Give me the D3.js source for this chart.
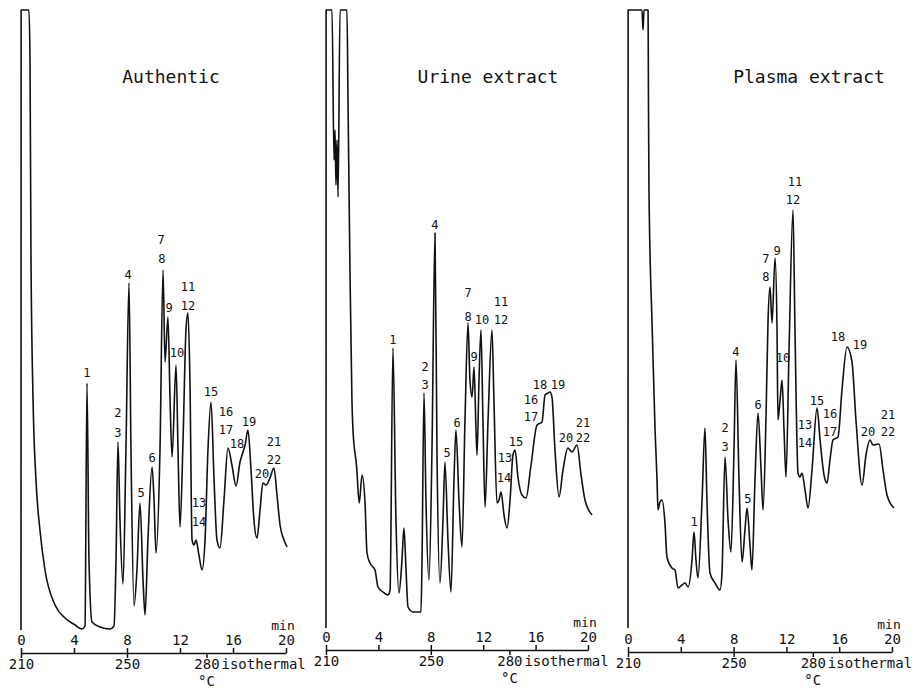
<!DOCTYPE html>
<html lang="en">
<head>
  <meta charset="UTF-8">
  <title>Gas chromatograms</title>
  <style>
    body { margin: 0; background: #fff; }
    svg text { font-family: "DejaVu Sans Mono", "Liberation Mono", monospace; fill: #111; }
  </style>
</head>
<body>
<svg id="chart" width="921" height="690"></svg>
<script src="https://cdn.jsdelivr.net/npm/d3@7"></script>
<script>
  // Traces: [retention time (min), detector response (arb. units)]
  var authentic = [[0,22],[0.01,642],[0.6,642],[0.68,592],[0.75,402],[0.91,252],[1.13,172],[1.43,122],[1.81,82],
    [2.57,47],[3.32,34],[4.08,27],[4.6,23],[4.83,26],[4.98,269],[5.13,92],[5.36,30],[5.96,25],[6.72,23],[7.02,26],
    [7.17,92],[7.32,210],[7.47,132],[7.7,68],[7.92,202],[8.15,369],[8.3,202],[8.53,46],[8.75,82],[8.98,149],
    [9.21,72],[9.36,37],[9.58,112],[9.89,185],[10.04,152],[10.19,99],[10.49,202],[10.72,382],[10.87,290],
    [11.09,335],[11.25,252],[11.4,195],[11.7,287],[11.85,202],[12.0,125],[12.23,212],[12.45,322],[12.6,339],
    [12.75,272],[12.91,112],[13.06,107],[13.21,112],[13.43,97],[13.66,82],[13.89,112],[14.11,202],[14.34,250],
    [14.57,172],[14.79,112],[15.02,104],[15.32,152],[15.62,204],[15.92,187],[16.23,166],[16.53,190],[16.68,197],
    [16.91,207],[17.13,222],[17.36,182],[17.58,132],[17.81,114],[18.04,142],[18.26,169],[18.49,167],[18.79,174],
    [19.09,184],[19.32,157],[19.55,127],[19.85,112],[20.08,105]];

  var urine = [[0,24],[0.01,642],[0.46,642],[0.61,492],[0.69,522],[0.76,467],[0.84,512],[0.92,455],[1.07,642],
    [1.6,642],[1.68,552],[1.83,382],[1.98,252],[2.06,222],[2.34,185],[2.54,149],[2.75,177],[2.98,149],[3.13,99],
    [3.36,89],[3.74,82],[3.97,65],[4.35,60],[4.73,57],[4.89,62],[5.11,304],[5.34,132],[5.57,59],[5.8,92],
    [5.95,124],[6.11,82],[6.26,45],[6.64,40],[7.25,40],[7.33,92],[7.48,259],[7.63,152],[7.86,72],[8.09,202],
    [8.32,419],[8.47,202],[8.7,69],[8.93,132],[9.08,190],[9.31,112],[9.54,60],[9.77,172],[9.92,222],[10.15,152],
    [10.38,105],[10.61,232],[10.84,329],[10.99,272],[11.15,255],[11.3,285],[11.45,222],[11.53,197],[11.68,272],
    [11.83,322],[11.98,232],[12.14,145],[12.37,232],[12.67,322],[12.82,252],[13.05,149],[13.21,152],[13.36,160],
    [13.59,137],[13.82,124],[14.05,152],[14.27,197],[14.43,202],[14.66,174],[14.96,157],[15.27,154],[15.65,187],
    [16.11,227],[16.49,230],[16.72,257],[16.95,259],[17.1,260],[17.25,255],[17.48,202],[17.79,155],[18.09,182],
    [18.47,204],[18.78,200],[19.16,207],[19.47,177],[19.77,152],[20.31,137]];

  var plasma = [[0,24],[0.01,642],[1.06,642],[1.14,622],[1.21,642],[1.52,642],[1.55,552],[1.59,462],[1.82,329],
    [2.05,222],[2.2,172],[2.27,142],[2.42,150],[2.58,152],[2.8,129],[2.95,95],[3.33,84],[3.56,82],[3.79,64],
    [4.09,67],[4.32,69],[4.55,65],[4.85,92],[5.0,120],[5.15,92],[5.3,74],[5.61,152],[5.83,224],[5.98,152],
    [6.21,79],[6.59,69],[6.97,62],[7.12,79],[7.35,195],[7.58,132],[7.8,100],[8.03,202],[8.18,292],[8.41,172],
    [8.64,90],[8.86,122],[9.02,144],[9.24,107],[9.39,82],[9.62,172],[9.85,239],[10.08,182],[10.23,142],
    [10.45,232],[10.61,332],[10.76,365],[10.91,329],[11.14,394],[11.29,322],[11.36,232],[11.52,252],[11.67,272],
    [11.82,222],[11.97,175],[12.2,302],[12.5,442],[12.65,322],[12.88,179],[13.03,175],[13.18,179],[13.41,162],
    [13.64,144],[13.94,182],[14.32,244],[14.55,212],[14.85,177],[15.08,169],[15.3,192],[15.53,212],[15.91,215],
    [16.21,262],[16.59,305],[16.97,290],[17.27,232],[17.73,167],[18.03,197],[18.33,212],[18.56,207],[19.02,208],
    [19.32,182],[19.62,157],[20.15,144]];

  // Peak numbers: [label, time, response where the number sits]
  var authenticPeaks = [["1",4.98,279],["2",7.32,239],["3",7.32,219],["4",8.08,377],["5",9.06,159],["6",9.89,194],
    ["7",10.57,412],["8",10.64,393],["9",11.17,344],["10",11.77,299],["11",12.6,365],["12",12.6,346],
    ["13",13.43,149],["14",13.43,130],["15",14.34,260],["16",15.47,240],["17",15.47,222],["18",16.3,208],
    ["19",17.21,230],["20",18.19,178],["21",19.09,210],["22",19.09,192]];
  var urinePeaks = [["1",5.11,312],["2",7.56,285],["3",7.56,267],["4",8.32,427],["5",9.24,199],["6",10.0,229],
    ["7",10.84,359],["8",10.84,335],["9",11.3,295],["10",11.91,332],["11",13.36,350],["12",13.36,332],
    ["13",13.66,194],["14",13.59,174],["15",14.5,210],["16",15.65,252],["17",15.65,235],["18",16.34,267],
    ["19",17.71,267],["20",18.32,214],["21",19.62,229],["22",19.62,214]];
  var plasmaPeaks = [["1",5.0,130],["2",7.35,224],["3",7.35,205],["4",8.18,300],["5",9.09,153],["6",9.85,247],
    ["7",10.45,393],["8",10.45,375],["9",11.29,401],["10",11.74,294],["11",12.65,470],["12",12.5,452],
    ["13",13.41,227],["14",13.41,209],["15",14.32,251],["16",15.3,238],["17",15.3,220],["18",15.91,315],
    ["19",17.58,307],["20",18.18,220],["21",19.7,237],["22",19.7,220]];

  var titles = ["Authentic", "Urine extract", "Plasma extract"];
  var minuteTicks = [0, 4, 8, 12, 16, 20];
  var tempTicks = [210, 250, 280];      // oven temperature, °C
  var tempAtMinute = [0, 8, 14];        // programme: 5 °C/min, then isothermal

  var svg = d3.select("#chart");

  // panel placement on the page
  var panels = [
    { title: titles[0], trace: authentic, peaks: authenticPeaks, left: 21, right: 286, axisY: 653, titleX: 171 },
    { title: titles[1], trace: urine, peaks: urinePeaks, left: 326, right: 588, axisY: 650, titleX: 488 },
    { title: titles[2], trace: plasma, peaks: plasmaPeaks, left: 628, right: 892, axisY: 652, titleX: 809 }
  ];

  var y = d3.scaleLinear().domain([0, 642]).range([652, 10]);

  panels.forEach(function(p) {
    var x = d3.scaleLinear().domain([0, 20]).range([p.left, p.right]);
    var temp = d3.scaleLinear().domain(tempTicks).range(tempAtMinute.map(x));
    var g = svg.append("g");

    var line = d3.line()
      .x(function(d) { return x(d[0]); })
      .y(function(d) { return y(d[1]); })
      .curve(d3.curveMonotoneX);

    g.append("path")
      .datum(p.trace)
      .attr("d", line)
      .attr("fill", "none")
      .attr("stroke", "#111")
      .attr("stroke-width", 1.6)
      .attr("stroke-linejoin", "round");

    // time axis (ticks up, labels above the line)
    var minAxis = g.append("g")
      .attr("transform", "translate(0," + p.axisY + ")")
      .call(d3.axisTop(x).tickValues(minuteTicks).tickSize(5).tickSizeOuter(0).tickPadding(3));
    minAxis.attr("font-family", null).attr("font-size", null);
    minAxis.selectAll("text").attr("font-size", 14);
    minAxis.selectAll("path, line").attr("stroke", "#111").attr("stroke-width", 1.5);

    // temperature axis (ticks down, labels below)
    var tAxis = g.append("g")
      .attr("transform", "translate(0," + p.axisY + ")")
      .call(d3.axisBottom(temp).tickValues(tempTicks).tickSize(5).tickPadding(1));
    tAxis.attr("font-family", null).attr("font-size", null);
    tAxis.select(".domain").remove();
    tAxis.selectAll("text").attr("font-size", 14);
    tAxis.selectAll("line").attr("stroke", "#111").attr("stroke-width", 1.5);

    g.append("text")
      .attr("x", x(20) - 3).attr("y", p.axisY - 23)
      .attr("text-anchor", "middle").attr("font-size", 13)
      .text("min");
    g.append("text")
      .attr("x", temp(280) + 15).attr("y", p.axisY + 16)
      .attr("font-size", 14)
      .text("isothermal");
    g.append("text")
      .attr("x", temp(280)).attr("y", p.axisY + 33)
      .attr("text-anchor", "middle").attr("font-size", 14)
      .text("°C");

    g.append("text")
      .attr("x", p.titleX).attr("y", 83)
      .attr("text-anchor", "middle").attr("font-size", 18)
      .text(p.title);

    g.selectAll(".peak")
      .data(p.peaks)
      .join("text")
      .attr("class", "peak")
      .attr("x", function(d) { return x(d[1]); })
      .attr("y", function(d) { return y(d[2]); })
      .attr("text-anchor", "middle")
      .attr("dominant-baseline", "central")
      .attr("font-size", 12)
      .text(function(d) { return d[0]; });
  });
</script>
</body>
</html>
